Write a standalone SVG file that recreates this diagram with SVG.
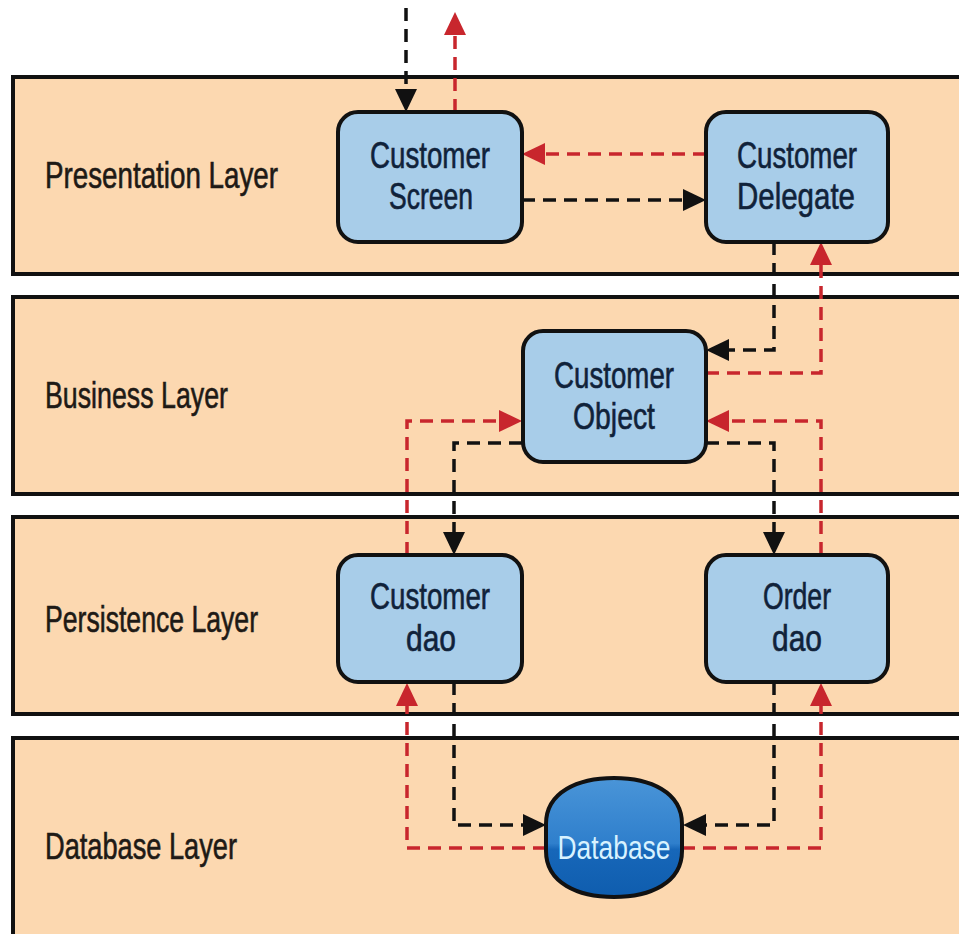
<svg xmlns="http://www.w3.org/2000/svg" width="959" height="934" viewBox="0 0 959 934">
<defs>
<style>
.layer{fill:#fcd8b0;stroke:#111;stroke-width:4}
.lbl{font-family:"Liberation Sans",Arial,sans-serif;font-size:36px;fill:#1e1a16;stroke:#1e1a16;stroke-width:0.6}
.node{fill:#a8cde9;stroke:#111;stroke-width:4}
.ntx{font-family:"Liberation Sans",Arial,sans-serif;font-size:36px;fill:#10223a;stroke:#10223a;stroke-width:0.6;text-anchor:middle}
.blk{fill:none;stroke:#111;stroke-width:3.5;stroke-dasharray:13 8}
.red{fill:none;stroke:#c8262d;stroke-width:3.5;stroke-dasharray:13 8}
</style>
<marker id="ab" markerUnits="userSpaceOnUse" markerWidth="23" markerHeight="24" viewBox="0 0 23 24" refX="0" refY="12" orient="auto"><path d="M0,1 L23,12 L0,23 Z" fill="#111"/></marker>
<marker id="ar" markerUnits="userSpaceOnUse" markerWidth="23" markerHeight="24" viewBox="0 0 23 24" refX="0" refY="12" orient="auto"><path d="M0,1 L23,12 L0,23 Z" fill="#c8262d"/></marker>
<linearGradient id="dbg" x1="0" y1="0" x2="0" y2="1">
<stop offset="0" stop-color="#4a95d8"/>
<stop offset="0.55" stop-color="#2f7fcc"/>
<stop offset="0.6" stop-color="#1767b9"/>
<stop offset="1" stop-color="#0f5dae"/>
</linearGradient>
</defs>
<rect width="959" height="934" fill="#ffffff"/>
<g id="layers">
<g id="presentation-layer"><rect class="layer" x="13" y="77" width="960" height="197"/><text class="lbl" x="45" y="188" textLength="233" lengthAdjust="spacingAndGlyphs">Presentation Layer</text></g>
<g id="business-layer"><rect class="layer" x="13" y="297" width="960" height="197"/><text class="lbl" x="45" y="408" textLength="183" lengthAdjust="spacingAndGlyphs">Business Layer</text></g>
<g id="persistence-layer"><rect class="layer" x="13" y="517" width="960" height="197"/><text class="lbl" x="45" y="632" textLength="213" lengthAdjust="spacingAndGlyphs">Persistence Layer</text></g>
<g id="database-layer"><rect class="layer" x="13" y="738" width="960" height="210"/><text class="lbl" x="45" y="859" textLength="192" lengthAdjust="spacingAndGlyphs">Database Layer</text></g>
</g>
<g id="connectors">
<path class="blk" d="M406,8 V89" marker-end="url(#ab)"/>
<path class="red" d="M455,112 V35" marker-end="url(#ar)"/>
<path class="red" d="M706,154 H545" marker-end="url(#ar)"/>
<path class="blk" d="M522,200 H683" marker-end="url(#ab)"/>
<path class="blk" d="M774,242 V350 H729" marker-end="url(#ab)"/>
<path class="red" d="M706,373 H821 V265" marker-end="url(#ar)"/>
<path class="red" d="M407,555 V421 H499" marker-end="url(#ar)"/>
<path class="blk" d="M522,443 H454 V532" marker-end="url(#ab)"/>
<path class="blk" d="M706,443 H774 V532" marker-end="url(#ab)"/>
<path class="red" d="M821,555 V421 H729" marker-end="url(#ar)"/>
<path class="blk" d="M454,682 V825 H523" marker-end="url(#ab)"/>
<path class="blk" d="M774,682 V825 H706" marker-end="url(#ab)"/>
<path class="red" d="M546,848 H407 V706" marker-end="url(#ar)"/>
<path class="red" d="M682,848 H821 V706" marker-end="url(#ar)"/>
</g>
<g id="customer-screen"><rect class="node" x="338" y="112" width="184" height="130" rx="20"/><text class="ntx" x="430" y="168" textLength="120" lengthAdjust="spacingAndGlyphs">Customer</text><text class="ntx" x="431" y="209" textLength="84" lengthAdjust="spacingAndGlyphs">Screen</text></g>
<g id="customer-delegate"><rect class="node" x="706" y="112" width="182" height="130" rx="20"/><text class="ntx" x="797" y="168" textLength="120" lengthAdjust="spacingAndGlyphs">Customer</text><text class="ntx" x="796" y="209" textLength="118" lengthAdjust="spacingAndGlyphs">Delegate</text></g>
<g id="customer-object"><rect class="node" x="523" y="331" width="183" height="131" rx="20"/><text class="ntx" x="614" y="388" textLength="120" lengthAdjust="spacingAndGlyphs">Customer</text><text class="ntx" x="614" y="429" textLength="82" lengthAdjust="spacingAndGlyphs">Object</text></g>
<g id="customer-dao"><rect class="node" x="338" y="555" width="184" height="127" rx="20"/><text class="ntx" x="430" y="609" textLength="120" lengthAdjust="spacingAndGlyphs">Customer</text><text class="ntx" x="431" y="651" textLength="50" lengthAdjust="spacingAndGlyphs">dao</text></g>
<g id="order-dao"><rect class="node" x="706" y="555" width="182" height="127" rx="20"/><text class="ntx" x="797" y="609" textLength="68" lengthAdjust="spacingAndGlyphs">Order</text><text class="ntx" x="797" y="651" textLength="50" lengthAdjust="spacingAndGlyphs">dao</text></g>
<g id="database"><path d="M546,824 C546,792 578,778 614,778 C650,778 682,792 682,824 L682,851 C682,883 650,897 614,897 C578,897 546,883 546,851 Z" fill="url(#dbg)" stroke="#111" stroke-width="4"/><text x="614" y="859" text-anchor="middle" font-family="'Liberation Sans',Arial,sans-serif" font-size="34" fill="#d8f2ff" textLength="113" lengthAdjust="spacingAndGlyphs">Database</text></g>
</svg>
